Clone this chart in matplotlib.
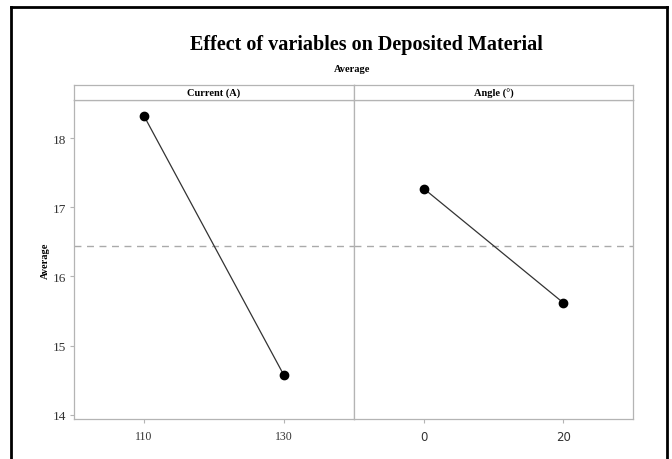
import matplotlib
matplotlib.use("Agg")
import matplotlib.pyplot as plt
from matplotlib.lines import Line2D

current_levels = ["110", "130"]
current_means = [18.32, 14.57]
angle_levels = ["0", "20"]
angle_means = [17.27, 15.62]
grand_mean = 16.445
y_ticks = [14, 15, 16, 17, 18]
panel_titles = ["Current (A)", "Angle (°)"]

W, H = 672, 460
fig = plt.figure(figsize=(W / 100, H / 100), dpi=100)

def fx(px):
    return px / W

def fy(py):
    return 1 - py / H

serif = "Liberation Serif"
grey = "#b4b4b4"

# outer frame (no visible bottom)
fig.add_artist(Line2D([fx(11), fx(11)], [fy(8), fy(470)], color="black", lw=2, transform=fig.transFigure))
fig.add_artist(Line2D([fx(11), fx(667)], [fy(8), fy(8)], color="black", lw=2, transform=fig.transFigure))
fig.add_artist(Line2D([fx(667), fx(667)], [fy(8), fy(470)], color="black", lw=2, transform=fig.transFigure))

fig.text(fx(366), fy(45), "Effect of variables on Deposited Material", ha="center", va="center",
         fontsize=14.5, fontweight="bold", family=serif)
fig.text(fx(352), fy(70), "Average", ha="center", va="center", fontsize=7.5, fontweight="bold", family=serif)

left, right, top, bottom, mid = 74, 633, 101, 420, 354
strip_top = 86
ymin, ymax = 13.94, 18.55

panels = [(left, mid, current_levels, current_means, serif),
          (mid, right, angle_levels, angle_means, "DejaVu Sans")]

for i, (x0, x1, levels, means, tfont) in enumerate(panels):
    ax = fig.add_axes([fx(x0), fy(bottom), fx(x1 - x0), (bottom - top) / H])
    xs = list(range(len(levels)))
    ax.plot(xs, means, color="#333333", lw=0.9, zorder=3)
    ax.plot(xs, means, "o", color="black", ms=6, zorder=4)
    ax.set_xlim(-0.5, 1.5)
    ax.set_ylim(ymin, ymax)
    ax.axhline(grand_mean, color="#aaaaaa", lw=1, ls=(0, (5, 4)), zorder=1)
    ax.set_xticks(xs)
    ax.set_xticklabels(levels, family=tfont, fontsize=8.5, color="#333333")
    for s in ax.spines.values():
        s.set_color(grey)
        s.set_linewidth(0.9)
    ax.tick_params(axis="x", length=3, color=grey, pad=5)
    if i == 0:
        ax.set_yticks(y_ticks)
        ax.set_yticklabels([str(t) for t in y_ticks], family=serif, fontsize=9.5, color="#333333")
        ax.tick_params(axis="y", length=3, color=grey, pad=3)
        ax.set_ylabel("Average", family=serif, fontsize=7.5, fontweight="bold", labelpad=2)
    else:
        ax.set_yticks([])

    # strip
    sax = fig.add_axes([fx(x0), fy(top), fx(x1 - x0), (top - strip_top) / H])
    sax.set_xticks([])
    sax.set_yticks([])
    for s in sax.spines.values():
        s.set_color(grey)
        s.set_linewidth(0.9)
    sax.text(0.5, 0.5, panel_titles[i], ha="center", va="center", fontsize=7.5,
             fontweight="bold", family=serif, transform=sax.transAxes)

fig.savefig("out.png", dpi=100, facecolor="white")
